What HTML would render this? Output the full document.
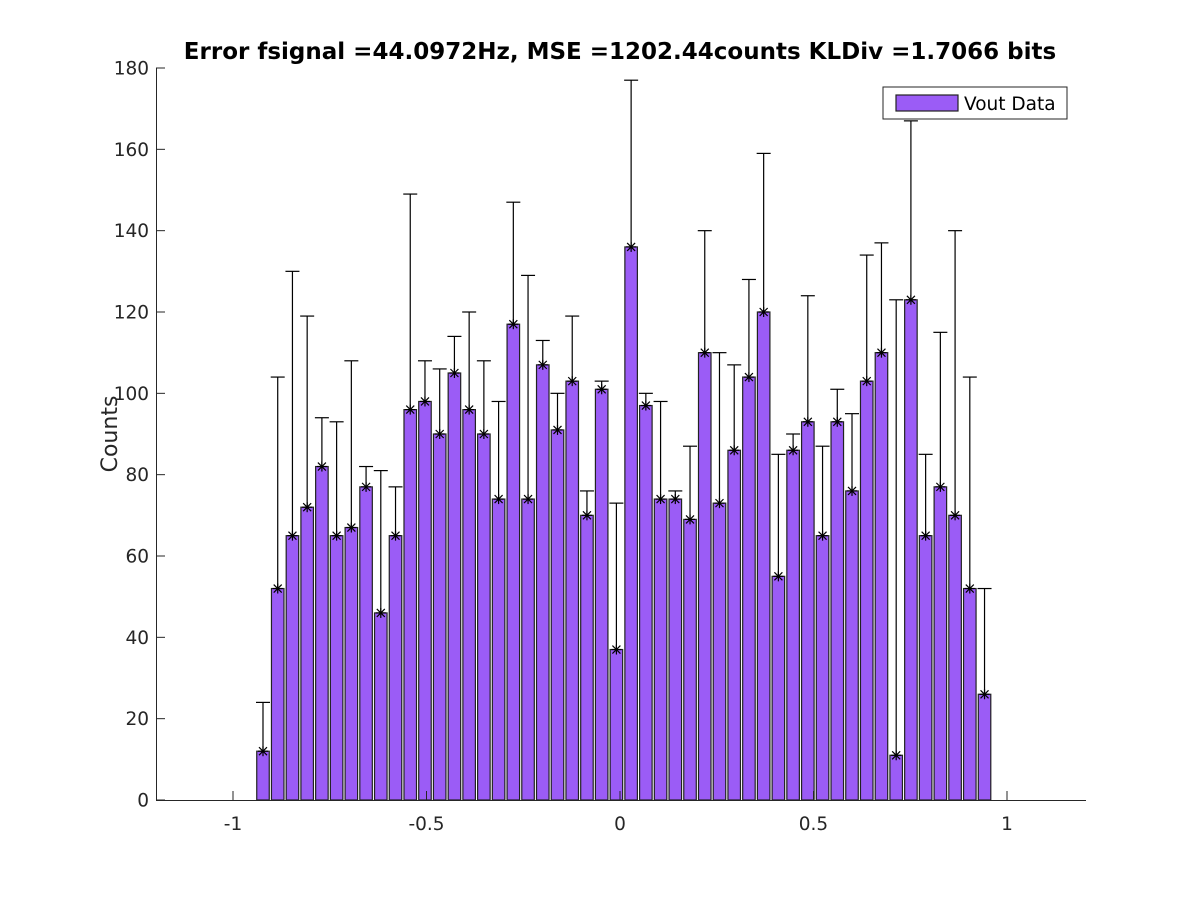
<!DOCTYPE html>
<html><head><meta charset="utf-8"><style>body{margin:0;background:#fff}svg{display:block;font-family:"DejaVu Sans","Liberation Sans",sans-serif}</style></head>
<body>
<svg id="chart" width="1200" height="900">
<rect width="1200" height="900" fill="#fff"/>
</svg>
<script>
const counts=[12,52,65,72,82,65,67,77,46,65,96,98,90,105,96,90,74,117,74,107,91,103,70,101,37,136,97,74,74,69,110,73,86,104,120,55,86,93,65,93,76,103,110,11,123,65,77,70,52,26];
const errTops=[24,104,130,119,94,93,108,82,81,77,149,108,106,114,120,108,98,147,129,113,100,119,76,103,73,177,100,98,76,87,140,110,107,128,159,85,90,124,87,101,95,134,137,123,167,85,115,140,104,52];
const xTicks=[-1,-0.5,0,0.5,1];
const xTickLabels=["-1","-0.5","0","0.5","1"];
const yTicks=[0,20,40,60,80,100,120,140,160,180];
const firstCenter=-0.9225, binStep=0.03805;
const NS="http://www.w3.org/2000/svg", svg=document.getElementById('chart');
const X=v=>620+v*387, Y=v=>800-v*(732/180);
function mk(t,a,p){const e=document.createElementNS(NS,t);for(const k in a)e.setAttribute(k,a[k]);(p||svg).appendChild(e);return e;}
const bw=0.85*binStep*387;
counts.forEach((c,i)=>{
 const cx=X(firstCenter+i*binStep);
 const r=mk('rect',{x:cx-bw/2,y:Y(c),width:bw,height:Y(0)-Y(c),fill:'#9b5cf6',stroke:'#222','stroke-width':1.2});
 
 
});
counts.forEach((c,i)=>{
 const cx=X(firstCenter+i*binStep);
 const g=mk('g',{stroke:'#000','stroke-width':1.2});
 
 
 mk('line',{x1:cx,x2:cx,y1:Y(c),y2:Y(errTops[i])},g);
 mk('line',{x1:cx-7,x2:cx+7,y1:Y(errTops[i]),y2:Y(errTops[i])},g);
 const y=Y(c);
 mk('line',{x1:cx-5,x2:cx+5,y1:y,y2:y},g);
 mk('line',{x1:cx,x2:cx,y1:y-5,y2:y+5},g);
 mk('line',{x1:cx-4,x2:cx+4,y1:y-4,y2:y+4},g);
 mk('line',{x1:cx-4,x2:cx+4,y1:y+4,y2:y-4},g);
});
const ax=mk('g',{stroke:'#262626','stroke-width':1});


mk('line',{x1:156,x2:1086,y1:800.5,y2:800.5},ax);
mk('line',{x1:156.5,x2:156.5,y1:68,y2:800},ax);
xTicks.forEach((t,i)=>{
 mk('line',{x1:X(t),x2:X(t),y1:800,y2:791},ax);
 const tx=mk('text',{x:X(t),y:830,'text-anchor':'middle','font-size':18.5,fill:'#262626',stroke:'none'});
 tx.textContent=xTickLabels[i];
 
 
});
yTicks.forEach(t=>{
 mk('line',{x1:156,x2:165,y1:Y(t),y2:Y(t)},ax);
 const tx=mk('text',{x:149,y:Y(t)+6.5,'text-anchor':'end','font-size':18.5,fill:'#262626',stroke:'none'});
 tx.textContent=t;
 
 
});
</script>
<div style="position:absolute;left:0;top:0;width:1200px;height:900px;pointer-events:none">
<svg width="1200" height="900" style="position:absolute;left:0;top:0">
<text x="620" y="59" text-anchor="middle" font-size="23" font-weight="bold" fill="#000">Error fsignal =44.0972Hz, MSE =1202.44counts KLDiv =1.7066 bits</text>
<text transform="translate(117,434) rotate(-90)" text-anchor="middle" font-size="22" fill="#262626">Counts</text>
<g>
<rect x="883" y="87" width="184" height="32" fill="#fff" stroke="#262626" stroke-width="1"/>
<rect x="896" y="95" width="62" height="16" fill="#9b5cf6" stroke="#222" stroke-width="1.2"/>
<text x="964" y="110" font-size="18.5" fill="#000">Vout Data</text>
</g>
</svg></div>
</body></html>
